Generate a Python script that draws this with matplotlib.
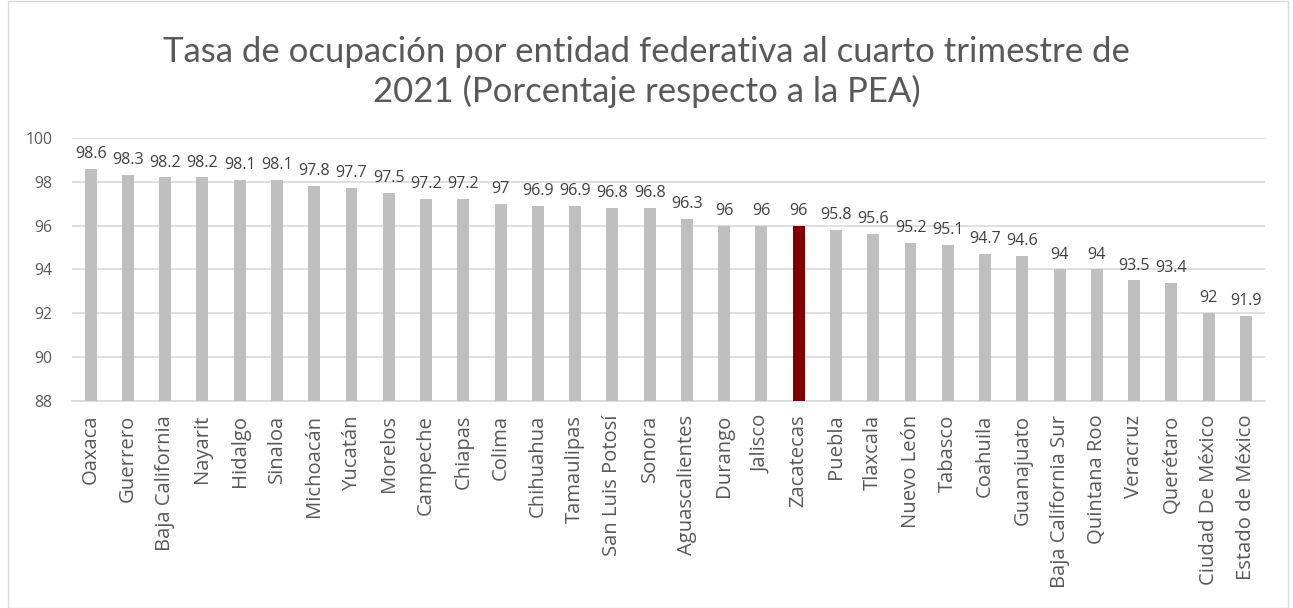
import matplotlib
matplotlib.use("Agg")
import matplotlib.pyplot as plt
from matplotlib.patches import Rectangle

estados = ["Oaxaca", "Guerrero", "Baja California", "Nayarit", "Hidalgo", "Sinaloa",
           "Michoacán", "Yucatán", "Morelos", "Campeche", "Chiapas", "Colima",
           "Chihuahua", "Tamaulipas", "San Luis Potosí", "Sonora", "Aguascalientes",
           "Durango", "Jalisco", "Zacatecas", "Puebla", "Tlaxcala", "Nuevo León",
           "Tabasco", "Coahuila", "Guanajuato", "Baja California Sur", "Quintana Roo",
           "Veracruz", "Querétaro", "Ciudad De México", "Estado de México"]
tasa = [98.6, 98.3, 98.2, 98.2, 98.1, 98.1, 97.8, 97.7, 97.5, 97.2, 97.2, 97.0,
        96.9, 96.9, 96.8, 96.8, 96.3, 96.0, 96.0, 96.0, 95.8, 95.6, 95.2, 95.1,
        94.7, 94.6, 94.0, 94.0, 93.5, 93.4, 92.0, 91.9]
destacado = "Zacatecas"
yticks = [88, 90, 92, 94, 96, 98, 100]

colores = ["#800000" if e == destacado else "#bfbfbf" for e in estados]
fuente = "Open Sans"

fig = plt.figure(figsize=(12.93, 6.08), dpi=100)
ax = fig.add_axes([0.0557, 0.3405, 0.9223, 0.4325])

x = range(len(estados))
ax.bar(x, tasa, width=0.32, color=colores, zorder=3)
ax.set_xlim(-0.5, len(estados) - 0.5)
ax.set_ylim(88, 100)
ax.set_yticks(yticks)
ax.set_yticklabels([str(v) for v in yticks], fontsize=11.3, color="#595959", family=fuente)
ax.set_xticks(list(x))
ax.set_xticklabels(estados, rotation=90, fontsize=14.6, color="#595959", family=fuente)
ax.tick_params(length=0, pad=10)
ax.tick_params(axis="y", pad=14)
ax.grid(axis="y", color="#d9d9d9", linewidth=1.2, zorder=0)
for sp in ["top", "right", "left"]:
    ax.spines[sp].set_visible(False)
ax.spines["bottom"].set_color("#d9d9d9")
ax.spines["bottom"].set_linewidth(1.2)

for xi, v in zip(x, tasa):
    lab = f"{v:g}"
    ax.annotate(lab, (xi, v), xytext=(0, 5), textcoords="offset points",
                ha="center", va="bottom", fontsize=11.6, color="#404040", family=fuente)

fig.text(0.5, 0.882, "Tasa de ocupación por entidad federativa al cuarto trimestre de\n2021 (Porcentaje respecto a la PEA)",
         ha="center", va="center", fontsize=25, color="#595959", family="Lato",
         linespacing=1.25)

fig.patches.append(Rectangle((0.006, 0.0), 0.99, 0.999, transform=fig.transFigure,
                             fill=False, edgecolor="#d9d9d9", linewidth=1))

fig.savefig("out.png", dpi=100, facecolor="white")
